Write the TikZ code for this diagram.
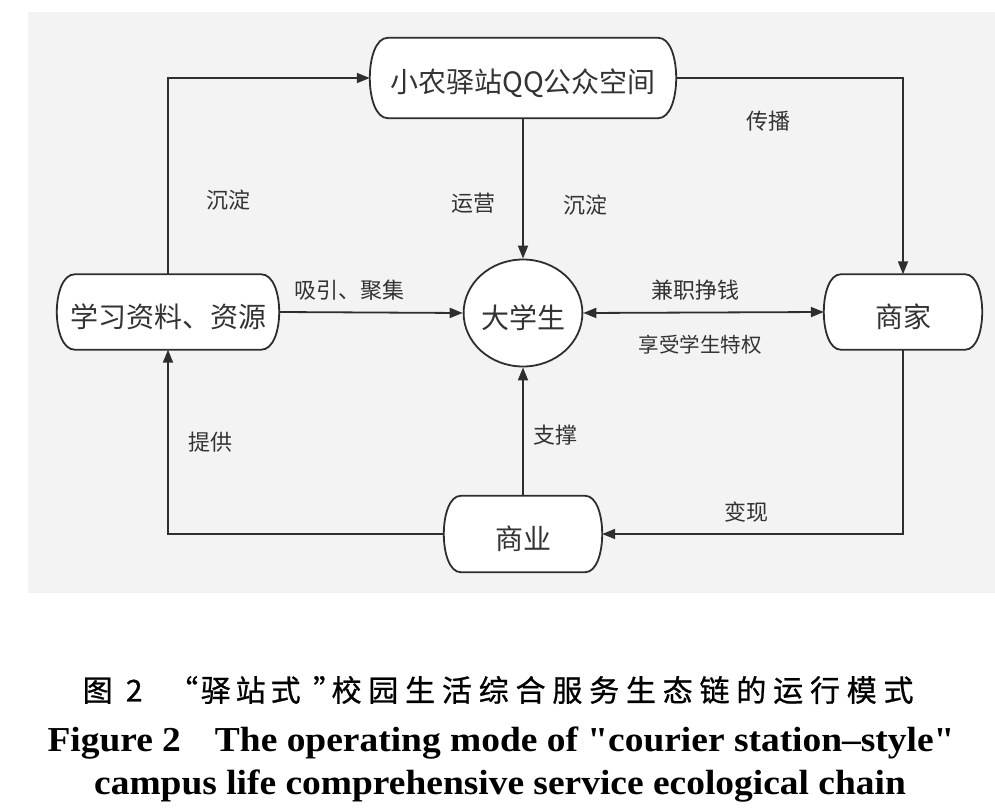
\documentclass[tikz,border=0pt]{standalone}
\usepackage{fontspec}
\setmainfont{Liberation Serif}
\newfontfamily\cjk{Noto Sans CJK SC}
\newfontfamily\capcjk[FakeBold=0.8]{Noto Sans CJK SC}
\newfontfamily\capen[FakeStretch=1.07]{Liberation Serif}
\usetikzlibrary{arrows.meta,calc,shapes.geometric,backgrounds}
\definecolor{bggray}{HTML}{F3F3F3}
\definecolor{ink}{HTML}{2E2E2E}
\definecolor{txt}{HTML}{333333}
\newcommand\termbox[2][18]{%
  \filldraw[boxline] ($(#2.north west)+(#1,0)$) -- ($(#2.north east)+(-#1,0)$)
    .. controls ($(#2.north east)+(#1/3,0)$) and ($(#2.south east)+(#1/3,0)$) .. ($(#2.south east)+(-#1,0)$)
    -- ($(#2.south west)+(#1,0)$)
    .. controls ($(#2.south west)+(-#1/3,0)$) and ($(#2.north west)+(-#1/3,0)$) .. cycle;}
\newcommand\cb[1]{\makebox[36.8pt]{#1}}
\begin{document}
\begin{tikzpicture}[x=1pt,y=-1pt,
  boxline/.style={draw=ink,fill=white,line width=1.8pt},
  box/.style={draw=none,inner sep=0pt,text=txt,text height=30pt,text depth=0pt,font=\cjk\fontsize{28}{28}\selectfont},
  lbl/.style={inner sep=0pt,text=txt,font=\cjk\fontsize{22}{22}\selectfont},
  conn/.style={draw=ink,line width=1.8pt,-{Triangle[length=13pt,width=10pt]}},
  capline/.style={inner sep=0pt,text=black}]
\useasboundingbox (0,0) rectangle (995,810);
\begin{scope}[on background layer]
  \fill[white] (0,0) rectangle (995,810);
  \fill[bggray] (28,12) rectangle (995,593);
\end{scope}
% nodes
\node[box,minimum width=306pt,minimum height=80pt] (top) at (523,78) {小农驿站QQ公众空间};
\node[box,minimum width=222pt,minimum height=75pt] (left) at (168,312) {学习资料、资源};
\node[box,minimum width=158pt,minimum height=75pt] (shop) at (903,312) {商家};
\node[box,minimum width=158pt,minimum height=76pt] (biz) at (523,534) {商业};
\node[box,ellipse,draw=ink,fill=white,line width=1.8pt,minimum width=115pt,minimum height=107pt] (stu) at (523,313) {大学生};
\begin{scope}[on background layer]
  \termbox{top}
  \termbox{left}
  \termbox[17]{shop}
  \termbox[17]{biz}
\end{scope}
% connectors
\draw[conn] (left.north) |- (top.west);
\draw[conn] (top.east) -| (shop.north);
\draw[conn] (top.south) -- (stu.north);
\draw[conn] (left.east) -- (stu.west);
\draw[conn,{Triangle[length=13pt,width=10pt]}-{Triangle[length=13pt,width=10pt]}] (stu.east) -- (shop.west);
\draw[conn] (biz.north) -- (stu.south);
\draw[conn] (shop.south) |- (biz.east);
\draw[conn] (biz.west) -| (left.south);
% labels
\node[lbl] (l1) at (228,200) {沉淀};
\node[lbl] (l2) at (473,203) {运营};
\node[lbl] (l3) at (585,205) {沉淀};
\node[lbl] (l4) at (768,121) {传播};
\node[lbl] (l5) at (349,290) {吸引、聚集};
\node[lbl] (l6) at (695,290) {兼职挣钱};
\node[lbl,font=\cjk\fontsize{20.5}{20.5}\selectfont] (l7) at (700,345) {享受学生特权};
\node[lbl] (l8) at (210,442) {提供};
\node[lbl] (l9) at (555,435) {支撑};
\node[lbl] (l10) at (746,512) {变现};
% captions
\node[capline,font=\capcjk\fontsize{30}{30}\selectfont,anchor=west] (c1) at (80,690) {\makebox[35pt]{图}\makebox[38pt]{2}\makebox[45pt][r]{“}\makebox[35pt]{驿}\makebox[35pt]{站}\makebox[35pt]{式}\hspace{10pt}\makebox[15pt][l]{”}\cb{校}\cb{园}\cb{生}\cb{活}\cb{综}\cb{合}\cb{服}\cb{务}\cb{生}\cb{态}\cb{链}\cb{的}\cb{运}\cb{行}\cb{模}\cb{式}};
\node[capline,font=\capen\bfseries\fontsize{35}{35}\selectfont,anchor=base] (c2) at (501,751) {Figure 2\hspace{34pt}The operating mode of "courier station–style"};
\node[capline,font=\capen\bfseries\fontsize{35}{35}\selectfont,anchor=base] (c3) at (500,794) {campus life comprehensive service ecological chain};
\end{tikzpicture}
\end{document}
